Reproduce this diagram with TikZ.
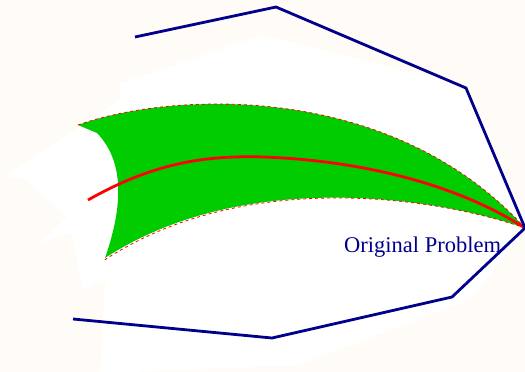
\documentclass[tikz,border=0pt]{standalone}
\usepackage{fontspec}
\setmainfont{Liberation Serif}
\definecolor{bgcream}{RGB}{255,251,246}
\definecolor{navyline}{RGB}{0,0,140}
\definecolor{leafgreen}{RGB}{0,204,0}
\definecolor{pathred}{RGB}{255,0,0}
\tikzset{
  hull/.style={draw=navyline,line width=2.8pt,line join=miter},
  region/.style={fill=leafgreen},
  edgedash/.style={draw=pathred,line width=0.8pt,dash pattern=on 3pt off 3pt},
  mainpath/.style={draw=pathred,line width=2.8pt},
  lbl/.style={text=navyline,font=\fontsize{22.5}{26}\selectfont,inner sep=0pt}
}
\begin{document}
\begin{tikzpicture}[x=1pt,y=-1pt]
\useasboundingbox (0,0) rectangle (525,372);
\fill[bgcream] (0,0) rectangle (525,372);
% faint white blob
\fill[white] (3,177) -- (23,178) -- (67,217) -- (40,243) -- (72,233) -- (82,290)
  -- (105,280) -- (100,372) -- (133,372) -- (300,365) -- (473,298) -- (517,240)
  -- (525,228) -- (469,87) -- (262,35) -- (120,83) -- (120,100) -- cycle;
% green region
\path[region] (78,125) .. controls (170,92) and (390,80) .. (525,228)
  .. controls (430,195) and (240,170) .. (105,258)
  .. controls (120,215) and (128,165) .. (97,133) -- cycle;
\path[edgedash] (78,125) .. controls (170,92) and (390,80) .. (525,228);
\path[edgedash] (525,228) .. controls (430,195) and (240,170) .. (103,261);
% red path
\coordinate (rs) at (88,200);
\coordinate (rm) at (263,157);
\coordinate (re) at (525,228);
\path[mainpath] (rs) .. controls (150,165) and (200,155) .. (rm)
  .. controls (350,160) and (450,180) .. (re);
% blue polyline
\coordinate (b1) at (135,37);
\coordinate (b2) at (276,7);
\coordinate (b3) at (466,88);
\coordinate (b4) at (525,228);
\coordinate (b5) at (452,297);
\coordinate (b6) at (272,338);
\coordinate (b7) at (73,319);
\draw[hull] (b1) -- (b2) -- (b3) -- (b4) -- (b5) -- (b6) -- (b7);
\node[lbl,anchor=base west] (orig) at (344,252) {Original Problem};
\end{tikzpicture}
\end{document}
